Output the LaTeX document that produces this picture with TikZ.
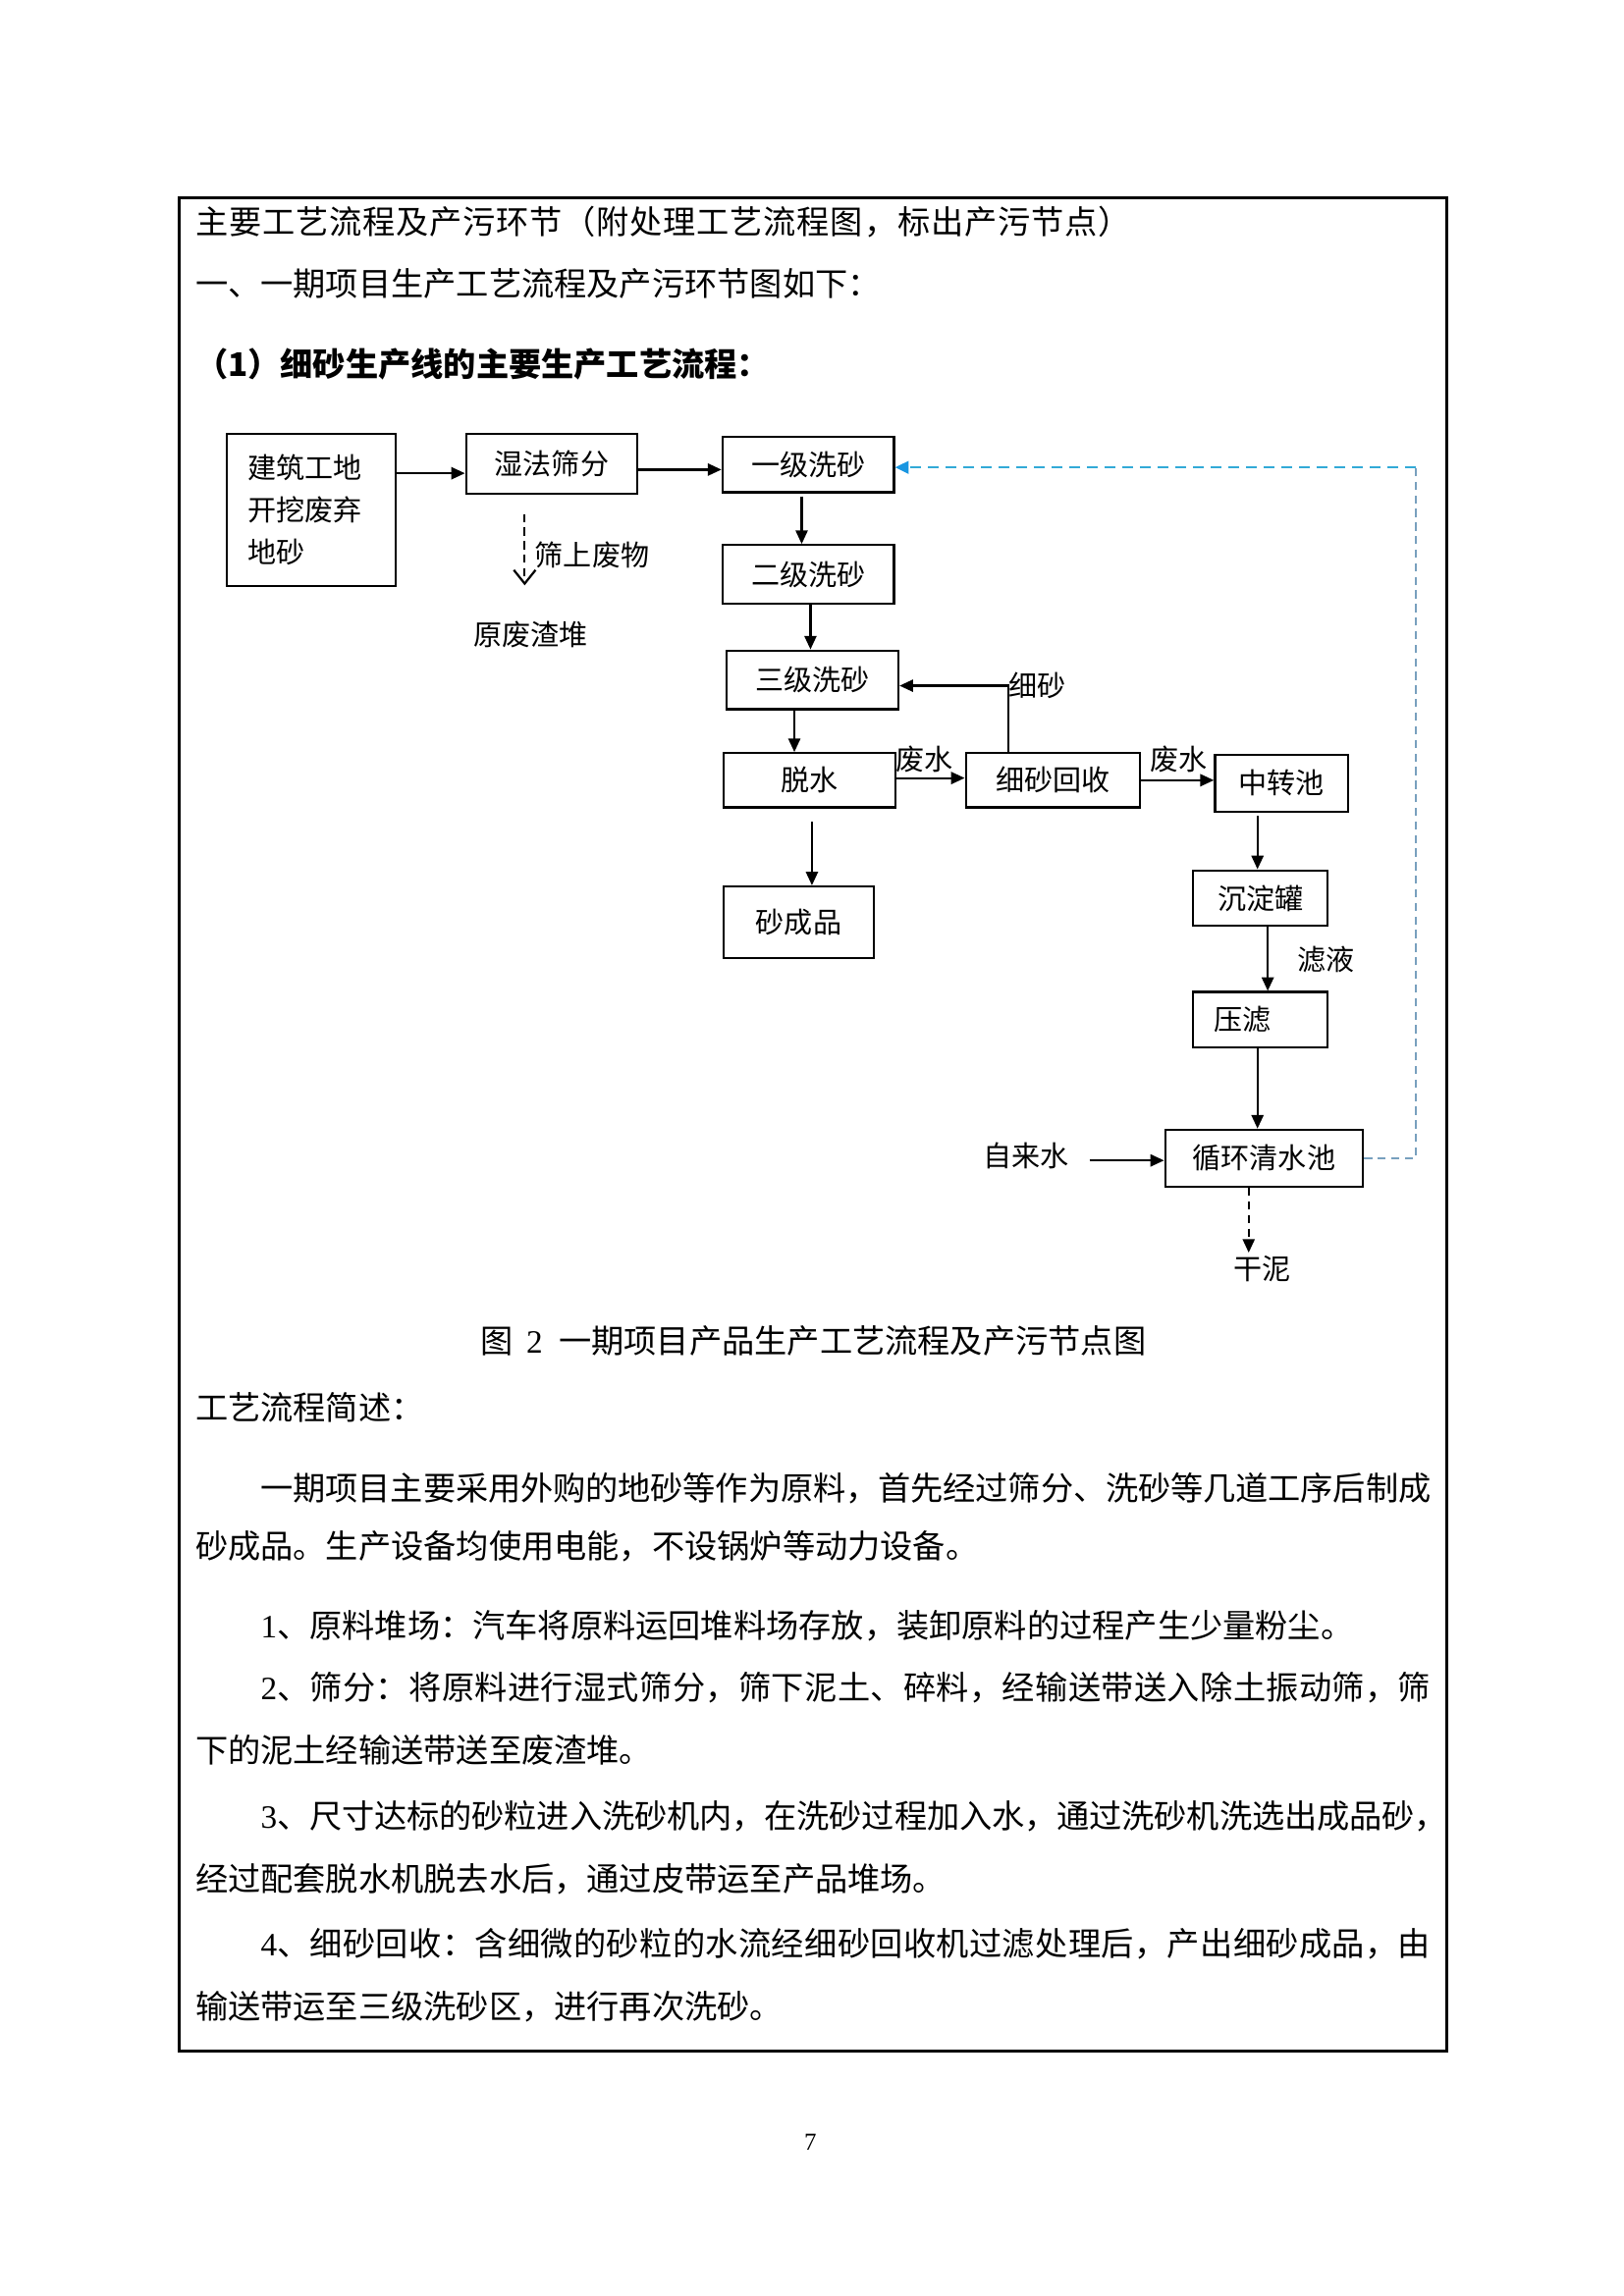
\documentclass[tikz,border=0pt]{standalone}
\usepackage{fontspec}
\setmainfont{Noto Sans CJK SC}
\newfontfamily\serifnum{Liberation Serif}
\usetikzlibrary{arrows.meta}
\newdimen\U \U=0.018953cm
\definecolor{blueA}{RGB}{50,170,215}
\definecolor{blueB}{RGB}{120,160,190}
\definecolor{blueC}{RGB}{25,150,225}
\newcommand\lsp[2]{{\addfontfeature{LetterSpace=#1}#2}}
\begin{document}
\begin{tikzpicture}[x=0.018953cm, y=-0.018953cm,
  box/.style={draw, line width=0.8pt, inner sep=0pt, font=\fontsize{10.5pt}{13pt}\selectfont},
  bx/.style 2 args={box, minimum width=#1*\U, minimum height=#2*\U},
  lab/.style={inner sep=1pt, font=\fontsize{10.5pt}{13pt}\selectfont},
  arr/.style={line width=0.8pt, -{Triangle[length=5pt,width=4.4pt]}},
  body/.style={anchor=west, inner sep=0pt, font=\fontsize{12pt}{14pt}\selectfont, text height=9.6pt, text depth=1.2pt}]
\useasboundingbox (0,0) rectangle (1108,1567);
% frame
\draw[line width=1.1pt] (122,135) rectangle (987,1400);
% header text
\node[body] (t0) at (133,152) {\lsp{2.5}{主要工艺流程及产污环节（附处理工艺流程图，标出产污节点）}};
\node[body] (t1) at (133,194) {一、一期项目生产工艺流程及产污环节图如下：};
\node[body, font=\bfseries\fontsize{12pt}{14pt}\selectfont] (t2) at (133,249) {（1）细砂生产线的主要生产工艺流程：};
% boxes
\node[bx={115}{104}, align=left, text width=87*\U, font=\fontsize{10.5pt}{15.6pt}\selectfont] (jz) at (212.5,348) {建筑工地\\开挖废弃\\地砂};
\node[bx={117}{41}] (sf) at (376.5,316.5) {湿法筛分};
\node[bx={117}{38}] (x1) at (551.5,317) {一级洗砂};
\node[bx={117}{40}] (x2) at (551.5,392) {二级洗砂};
\node[bx={117}{40}] (x3) at (554.5,464) {三级洗砂};
\node[bx={117}{37}] (ts) at (552.5,532.5) {脱水};
\node[bx={102}{49}] (cp) at (545,629.5) {砂成品};
\node[bx={119}{37}] (xs) at (718.5,532.5) {细砂回收};
\node[bx={91}{39}] (zz) at (874.5,534.5) {中转池};
\node[bx={92}{38}] (cd) at (860,613) {沉淀罐};
\node[bx={92}{38}] (yl) at (860,696) {压滤\kern13pt};
\node[bx={135}{39}] (xh) at (862.5,790.5) {循环清水池};
% labels
\node[lab] (sw) at (404,379) {筛上废物};
\node[lab] (yfz) at (362,433) {原废渣堆};
\node[lab] (xsl) at (708,468) {细砂};
\node[lab] (fs1) at (631,518) {废水};
\node[lab] (fs2) at (804,518) {废水};
\node[lab] (lye) at (905,655) {滤液};
\node[lab] (zls) at (700,789) {自来水};
\node[lab] (gn) at (861,866) {干泥};
% connectors
\draw[arr] ([yshift=25*\U]jz.east) coordinate (c1) -- (c1 -| sf.west);
\draw[arr] ([yshift=-4*\U]sf.east) coordinate (c2) -- (c2 -| x1.west);
\draw[arr] ([xshift=-4.5*\U,yshift=-2*\U]x1.south) coordinate (c3) -- (c3 |- x2.north);
\draw[arr] ([xshift=1.5*\U]x2.south) coordinate (c4) -- (c4 |- x3.north);
\draw[arr] ([xshift=-12.5*\U]x3.south) coordinate (c5) -- (c5 |- ts.north);
\draw[arr] ([xshift=1.5*\U,yshift=-9*\U]ts.south) coordinate (c6) -- (c6 |- cp.north);
\draw[arr] ([yshift=1.5*\U]ts.east) coordinate (c7) -- (c7 -| xs.west);
\draw[arr] ([xshift=-30.5*\U]xs.north) |- ([yshift=-4*\U]x3.east);
\draw[arr] (xs.east) -- (xs.east -| zz.west);
\draw[arr] ([xshift=-16.5*\U,yshift=-2*\U]zz.south) coordinate (c8) -- (c8 |- cd.north);
\draw[arr] ([xshift=5*\U]cd.south) coordinate (c9) -- (c9 |- yl.north);
\draw[arr] ([xshift=-2*\U]yl.south) coordinate (c10) -- (c10 |- xh.north);
\draw[arr] ([xshift=12*\U,yshift=-3*\U]zls.east) coordinate (c11) -- (c11 -| xh.west);
\draw[arr, dash pattern=on 3pt off 2pt] ([xshift=-10.5*\U]xh.south) coordinate (c12) -- (c12 |- gn.north);
\draw[line width=0.8pt, dash pattern=on 3pt off 2pt, -{Straight Barb[length=5pt,width=8pt]}, shorten >=12pt] ([xshift=-18.5*\U,yshift=-13*\U]sf.south) coordinate (c13) -- (c13 |- yfz.north);
% blue return loop
\coordinate (bc) at (966,319);
\draw[blueB, line width=0.8pt, dash pattern=on 3pt off 2pt] (xh.east) -| (bc);
\draw[blueA, line width=0.9pt, dash pattern=on 4pt off 2.5pt, -{Triangle[length=5pt,width=4.6pt,color=blueC]}] (bc) -- (bc -| x1.east);
% caption and description
\node[body, anchor=center] (cap) at (555,916) {图\hspace{0.4em}{\serifnum 2}\hspace{0.5em}一期项目产品生产工艺流程及产污节点图};
\node[body] (t3) at (133,961) {工艺流程简述：};
\node[body] (q1) at (133,1016) {\kern24pt \lsp{-0.35}{一期项目主要采用外购的地砂等作为原料，首先经过筛分、洗砂等几道工序后制成}};
\node[body] (q2) at (133,1056) {砂成品。生产设备均使用电能，不设锅炉等动力设备。};
\node[body] (q3) at (133,1110) {\kern24pt {\serifnum 1}、原料堆场：汽车将原料运回堆料场存放，装卸原料的过程产生少量粉尘。};
\node[body] (q4) at (133,1152) {\kern24pt {\serifnum 2}\lsp{1.1}{、筛分：将原料进行湿式筛分，筛下泥土、碎料，经输送带送入除土振动筛，筛}};
\node[body] (q5) at (133,1195) {下的泥土经输送带送至废渣堆。};
\node[body] (q6) at (133,1240) {\kern24pt {\serifnum 3}\lsp{-0.35}{、尺寸达标的砂粒进入洗砂机内，在洗砂过程加入水，通过洗砂机洗选出成品砂，}};
\node[body] (q7) at (133,1283) {经过配套脱水机脱去水后，通过皮带运至产品堆场。};
\node[body] (q8) at (133,1327) {\kern24pt {\serifnum 4}\lsp{1.1}{、细砂回收：含细微的砂粒的水流经细砂回收机过滤处理后，产出细砂成品，由}};
\node[body] (q9) at (133,1370) {输送带运至三级洗砂区，进行再次洗砂。};
\node[inner sep=0pt, font=\serifnum\fontsize{9pt}{10pt}\selectfont] (pg) at (553,1462) {7};
\end{tikzpicture}
\end{document}
